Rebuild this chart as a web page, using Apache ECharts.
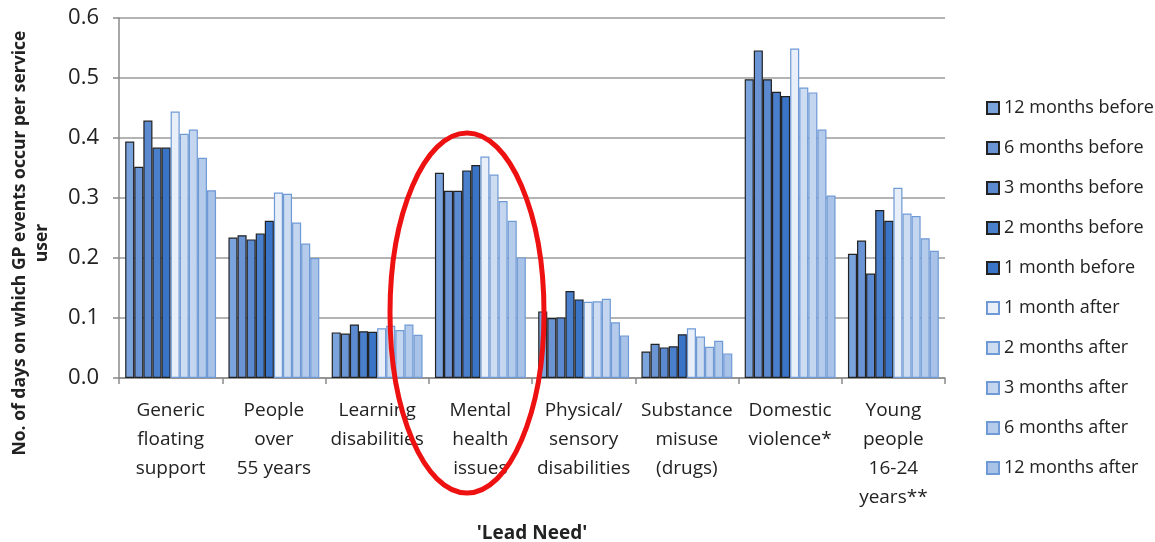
<!DOCTYPE html>
<html>
<head>
<meta charset="utf-8">
<script src="https://cdn.jsdelivr.net/npm/echarts@6/dist/echarts.min.js"></script>
<style>html,body{margin:0;padding:0;background:#fff;}#c{width:1155px;height:542px;}</style>
</head>
<body>
<div id="c"></div>
<script>
const categories = ["Generic\nfloating\nsupport", "People\nover\n55 years", "Learning\ndisabilities", "Mental\nhealth\nissues", "Physical/\nsensory\ndisabilities", "Substance\nmisuse\n(drugs)", "Domestic\nviolence*", "Young\npeople\n16-24\nyears**"];
const seriesNames = ["12 months before", "6 months before", "3 months before", "2 months before", "1 month before", "1 month after", "2 months after", "3 months after", "6 months after", "12 months after"];
const m12before = [0.394, 0.234, 0.076, 0.342, 0.111, 0.044, 0.498, 0.207];
const m6before  = [0.352, 0.238, 0.074, 0.312, 0.100, 0.057, 0.546, 0.229];
const m3before  = [0.429, 0.231, 0.089, 0.312, 0.101, 0.051, 0.498, 0.174];
const m2before  = [0.384, 0.241, 0.078, 0.346, 0.145, 0.053, 0.477, 0.280];
const m1before  = [0.384, 0.262, 0.077, 0.355, 0.131, 0.073, 0.470, 0.262];
const m1after   = [0.444, 0.309, 0.083, 0.369, 0.127, 0.083, 0.549, 0.317];
const m2after   = [0.407, 0.307, 0.087, 0.339, 0.128, 0.069, 0.484, 0.274];
const m3after   = [0.414, 0.259, 0.080, 0.295, 0.132, 0.052, 0.476, 0.270];
const m6after   = [0.367, 0.224, 0.089, 0.262, 0.093, 0.062, 0.414, 0.233];
const m12after  = [0.313, 0.200, 0.072, 0.201, 0.071, 0.041, 0.304, 0.212];
const seriesValues = [m12before, m6before, m3before, m2before, m1before, m1after, m2after, m3after, m6after, m12after];
const yTicks = [0, 0.1, 0.2, 0.3, 0.4, 0.5, 0.6];

const fills = ["#7ba3dc", "#6b94d4", "#5b8ad0", "#4a7fcb", "#3a74c6", "#e8eff9", "#cddcf1", "#c3d5ef", "#b5cbeb", "#a8c2e8"];
const borders = ["#222", "#222", "#222", "#222", "#222", "#6f9ad5", "#6f9ad5", "#6f9ad5", "#6f9ad5", "#6f9ad5"];
const FONT = "Open Sans";

const chart = echarts.init(document.getElementById('c'), null, {renderer: 'canvas'});
chart.setOption({
  animation: false,
  textStyle: {fontFamily: FONT},
  grid: {left: 119, right: 210, top: 18, bottom: 164, containLabel: false, outerBoundsMode: 'none'},
  legend: {
    orient: 'vertical', left: 981, top: 93,
    itemWidth: 12, itemHeight: 12, itemGap: 20,
    icon: 'rect',
    textStyle: {fontSize: 18, lineHeight: 20, color: '#222', fontFamily: FONT},
    data: seriesNames
  },
  xAxis: {
    type: 'category', data: categories,
    axisLine: {lineStyle: {color: '#8a8a8a', width: 1.5}},
    axisTick: {show: true, length: 6, lineStyle: {color: '#8a8a8a', width: 1.5}},
    axisLabel: {interval: 0, fontSize: 19, lineHeight: 29, color: '#222', margin: 18, fontFamily: FONT},
    name: "'Lead Need'", nameLocation: 'middle', nameGap: 146,
    nameTextStyle: {fontSize: 19, fontWeight: 'bold', color: '#222', fontFamily: FONT}
  },
  yAxis: {
    type: 'value', min: 0, max: 0.6, interval: 0.1,
    axisLine: {show: true, lineStyle: {color: '#8a8a8a', width: 1.5}},
    axisTick: {show: true, length: 6, lineStyle: {color: '#8a8a8a', width: 1.5}},
    splitLine: {lineStyle: {color: '#b4b4b4', width: 2}},
    axisLabel: {fontSize: 22, color: '#222', margin: 20, fontFamily: FONT,
      formatter: v => yTicks.includes(Math.round(v*10)/10) ? v.toFixed(1) : ''}
  },
  series: seriesNames.map((n, i) => ({
    name: n, type: 'bar', data: seriesValues[i],
    barGap: '0%', barCategoryGap: '12%',
    itemStyle: {color: fills[i], borderColor: borders[i], borderWidth: 1.2}
  })),
  graphic: [
    {type: 'text', x: 31, y: 243, rotation: Math.PI/2,
     style: {text: 'No. of days on which GP events occur per service\nuser', font: 'bold 17.5px "' + FONT + '"', fill: '#222', textAlign: 'center', textVerticalAlign: 'middle', lineHeight: 22}},
    {type: 'ellipse', shape: {cx: 467, cy: 313, rx: 77, ry: 180},
     style: {fill: 'none', stroke: '#ee1111', lineWidth: 5}, z: 100}
  ]
});
</script>
</body>
</html>
